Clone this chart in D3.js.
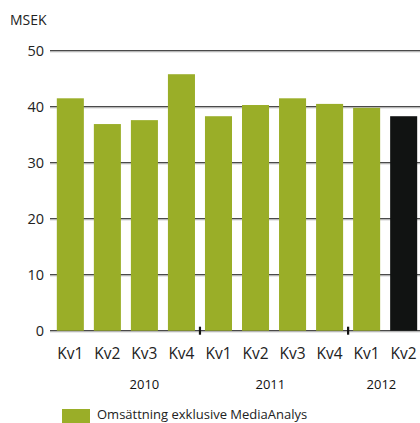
<!DOCTYPE html>
<html><head><meta charset="utf-8">
<script src="https://cdn.jsdelivr.net/npm/d3@7"></script>
<style>html,body{margin:0;padding:0;background:#fff;}svg{display:block;font-family:"Open Sans",sans-serif;}</style>
</head><body>
<svg id="c" width="420" height="423"></svg>
<script>
const quarters = ["Kv1","Kv2","Kv3","Kv4","Kv1","Kv2","Kv3","Kv4","Kv1","Kv2"];
const values = [41.5, 36.9, 37.6, 45.8, 38.3, 40.3, 41.5, 40.5, 39.8, 38.3];
const highlight = [false,false,false,false,false,false,false,false,false,true];
const years = ["2010","2011","2012"];
const yearStart = [0, 4, 8];
const yTicks = [0,10,20,30,40,50];
const unitLabel = "MSEK";
const legendLabel = "Omsättning exklusive MediaAnalys";

const svg = d3.select("#c");
const green = "#9aae28", black = "#111312";
const x = d3.scaleBand().domain(d3.range(values.length)).range([52, 422]).paddingInner(0.27).paddingOuter(0.13);
const y = d3.scaleLinear().domain([0, 50]).range([330.7, 50.7]);

// gridlines
const grid = svg.append("g");
yTicks.forEach(t => {
  grid.append("line").attr("x1", 50).attr("x2", 420).attr("y1", y(t)+1.2).attr("y2", y(t)+1.2)
    .attr("stroke", "#c8c8c8").attr("stroke-width", 1);
  grid.append("line").attr("x1", 50).attr("x2", 420).attr("y1", y(t)).attr("y2", y(t))
    .attr("stroke", "#4a4a4a").attr("stroke-width", 1.3);
});

// y labels
svg.append("g").selectAll("text").data(yTicks).join("text")
  .attr("x", 44).attr("y", d => y(d)).attr("dy", "0.36em").attr("text-anchor", "end")
  .attr("font-size", 14.5).attr("fill", "#222").text(d => d);

svg.append("text").attr("x", 10).attr("y", 25).attr("font-size", 14).attr("fill", "#222").text(unitLabel);

// bars
svg.append("g").selectAll("rect").data(values).join("rect")
  .attr("x", (d,i) => x(i)).attr("width", x.bandwidth())
  .attr("y", d => y(d)).attr("height", d => y(0) - y(d))
  .attr("fill", (d,i) => highlight[i] ? black : green);

// year separators
yearStart.slice(1).forEach(s => {
  const xs = (x(s - 1) + x.bandwidth() + x(s)) / 2;
  svg.append("line").attr("x1", xs).attr("x2", xs).attr("y1", y(0) - 4).attr("y2", y(0) + 4)
    .attr("stroke", "#111").attr("stroke-width", 2.2);
});

// x labels
svg.append("g").selectAll("text").data(quarters).join("text")
  .attr("x", (d,i) => x(i) + x.bandwidth()/2).attr("y", 359).attr("text-anchor", "middle")
  .attr("font-size", 15.5).attr("fill", "#222").text(d => d);

// year labels
const yearAnchor = [2, 5.4, 8.4];
years.forEach((yr, k) => {
  const a = yearAnchor[k];
  const i0 = Math.floor(a), f = a - i0;
  const cx = x(i0) + x.bandwidth()/2 + f * x.step();
  svg.append("text").attr("x", cx).attr("y", 389).attr("text-anchor", "middle")
    .attr("font-size", 13).attr("fill", "#111").text(yr);
});

// legend
svg.append("rect").attr("x", 62).attr("y", 409).attr("width", 28).attr("height", 14).attr("fill", green);
svg.append("text").attr("x", 97).attr("y", 418.5).attr("font-size", 13).attr("fill", "#222").text(legendLabel);
</script>
</body></html>
